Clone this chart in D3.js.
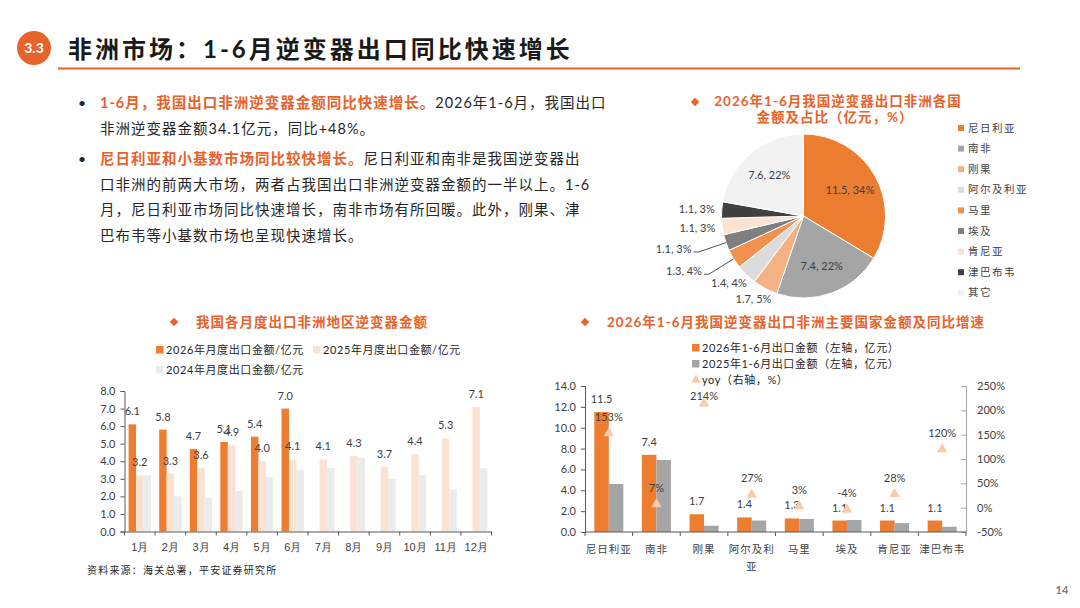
<!DOCTYPE html>
<html>
<head>
<meta charset="utf-8">
<script src="https://cdn.jsdelivr.net/npm/d3@7"></script>
<style>
  body { margin: 0; background: #fff; }
  svg { display: block; font-family: Lato, "Noto Sans CJK SC", sans-serif; }
</style>
</head>
<body>
<svg id="page" width="1080" height="608"></svg>
<script>
// ---- data ----
const months = ["1月", "2月", "3月", "4月", "5月", "6月", "7月", "8月", "9月", "10月", "11月", "12月"];
const monthly2026 = [6.1, 5.8, 4.7, 5.1, 5.4, 7.0];
const monthly2025 = [3.2, 3.3, 3.6, 4.9, 4.0, 4.1, 4.1, 4.3, 3.7, 4.4, 5.3, 7.1];
const monthly2024 = [3.2, 2.0, 1.9, 2.3, 3.1, 3.5, 3.6, 4.2, 3.0, 3.2, 2.4, 3.6];

const countries = ["尼日利亚", "南非", "刚果", "阿尔及利亚", "马里", "埃及", "肯尼亚", "津巴布韦"];
const h1Export2026 = [11.5, 7.4, 1.7, 1.4, 1.3, 1.1, 1.1, 1.1];
const h1Export2025 = [4.6, 6.9, 0.6, 1.1, 1.25, 1.15, 0.85, 0.5];
const yoyPct = [153, 7, 214, 27, 3, -4, 28, 120];

const pieNames = ["尼日利亚", "南非", "刚果", "阿尔及利亚", "马里", "埃及", "肯尼亚", "津巴布韦", "其它"];
const pieValues = [11.5, 7.4, 1.7, 1.4, 1.3, 1.1, 1.1, 1.1, 7.6];
const pieShares = [34, 22, 5, 4, 4, 3, 3, 3, 22];

const leftTicks = [0, 1, 2, 3, 4, 5, 6, 7, 8];
const rightTicksL = [0, 2, 4, 6, 8, 10, 12, 14];
const rightTicksR = [-50, 0, 50, 100, 150, 200, 250];

// ---- colours ----
const ORANGE = "#ED7D31";
const ACCENT = "#E8622C";
const TEXT = "#262626";
const LABEL = "#404040";
const pieColors = ["#ED7D31", "#A5A5A5", "#F4B183", "#DCDCDC", "#F0914D", "#7F7F7F", "#FBE3D3", "#404040", "#F2F2F2"];

const svg = d3.select("#page");

// ---- header ----
svg.append("circle").attr("cx", 34).attr("cy", 48).attr("r", 17).attr("fill", ACCENT);
svg.append("text").attr("x", 34).attr("y", 53).attr("text-anchor", "middle")
  .attr("fill", "#fff").attr("font-size", 14).attr("font-weight", "bold").text("3.3");
svg.append("text").attr("x", 68).attr("y", 58).attr("font-size", 24).attr("font-weight", "bold")
  .attr("letter-spacing", 3).attr("fill", "#1a1a1a").text("非洲市场：1-6月逆变器出口同比快速增长");
svg.append("line").attr("x1", 58).attr("x2", 1020).attr("y1", 68.5).attr("y2", 68.5)
  .attr("stroke", ACCENT).attr("stroke-width", 2);

// ---- bullet text ----
const paras = [
  { y: 108, lines: [
    [["1-6月，我国出口非洲逆变器金额同比快速增长。", true], ["2026年1-6月，我国出口", false]],
    [["非洲逆变器金额34.1亿元，同比+48%。", false]]
  ]},
  { y: 164, lines: [
    [["尼日利亚和小基数市场同比较快增长。", true], ["尼日利亚和南非是我国逆变器出", false]],
    [["口非洲的前两大市场，两者占我国出口非洲逆变器金额的一半以上。1-6", false]],
    [["月，尼日利亚市场同比快速增长，南非市场有所回暖。此外，刚果、津", false]],
    [["巴布韦等小基数市场也呈现快速增长。", false]]
  ]}
];
paras.forEach(p => {
  svg.append("text").attr("x", 78).attr("y", p.y).attr("font-size", 14).attr("fill", TEXT).text("•");
  p.lines.forEach((line, i) => {
    const t = svg.append("text").attr("x", 100).attr("y", p.y + i * 25.7)
      .attr("font-size", 14.5).attr("letter-spacing", 1);
    line.forEach(([s, hi]) => {
      t.append("tspan").text(s).attr("fill", hi ? ACCENT : TEXT).attr("font-weight", hi ? "bold" : "normal");
    });
  });
});

function diamond(x, y) {
  svg.append("rect").attr("x", -3).attr("y", -3).attr("width", 6).attr("height", 6)
    .attr("fill", ACCENT).attr("transform", `translate(${x},${y}) rotate(45)`);
}
function chartTitle(x, y, s, anchor) {
  svg.append("text").attr("x", x).attr("y", y).attr("font-size", 13.5).attr("font-weight", "bold")
    .attr("letter-spacing", 1).attr("fill", ACCENT).attr("text-anchor", anchor || "start").text(s);
}

// ---- pie chart ----
const pieR = 82, pieCx = 803.5, pieCy = 216;
diamond(695, 102);
chartTitle(838, 106, "2026年1-6月我国逆变器出口非洲各国", "middle");
chartTitle(835, 122, "金额及占比（亿元，%）", "middle");

const pieG = svg.append("g").attr("transform", `translate(${pieCx},${pieCy})`);
const arcs = d3.pie().sort(null).value(d => d)(pieValues);
const arc = d3.arc().innerRadius(0).outerRadius(pieR);
pieG.selectAll("path.slice").data(arcs).enter().append("path")
  .attr("class", "slice").attr("d", arc)
  .attr("fill", (d, i) => pieColors[i]).attr("stroke", "#fff").attr("stroke-width", 1);

const leaderSlices = ["马里", "埃及"];
const innerArc = d3.arc().innerRadius(pieR * 0.65).outerRadius(pieR * 0.65);
arcs.forEach((d, i) => {
  const label = `${pieValues[i]}, ${pieShares[i]}%`;
  const mid = (d.startAngle + d.endAngle) / 2;
  const dx = Math.sin(mid), dy = -Math.cos(mid);
  let x, y, anchor = "middle";
  if (pieValues[i] >= 5) {
    [x, y] = innerArc.centroid(d);
  } else if (leaderSlices.includes(pieNames[i])) {
    const ex = dx * (pieR + 29), ey = dy * (pieR + 29);
    pieG.append("polyline")
      .attr("points", `${dx * pieR},${dy * pieR} ${ex},${ey} ${ex - 5},${ey}`)
      .attr("fill", "none").attr("stroke", "#262626").attr("stroke-width", 0.8);
    x = ex - 7; y = ey - 3; anchor = "end";
  } else {
    x = dx * (pieR + 6) + dx * 19;
    y = dy * (pieR + 6) + dy * 6;
  }
  pieG.append("text").attr("x", x).attr("y", y).attr("dy", "0.35em")
    .attr("text-anchor", anchor).attr("font-size", 11).attr("fill", LABEL).text(label);
});

const pieLegend = svg.append("g").attr("transform", "translate(958,128)");
pieNames.forEach((n, i) => {
  const g = pieLegend.append("g").attr("transform", `translate(0,${i * 20.6})`);
  g.append("rect").attr("x", 0).attr("y", -3).attr("width", 6).attr("height", 6).attr("fill", pieColors[i]);
  g.append("text").attr("x", 10).attr("y", 0).attr("dy", "0.35em").attr("font-size", 10.5)
    .attr("letter-spacing", 1.5).attr("fill", LABEL).text(n);
});

// ---- left chart: monthly exports ----
diamond(174, 322);
chartTitle(196, 327, "我国各月度出口非洲地区逆变器金额");

function legendItem(x, y, color, s) {
  svg.append("rect").attr("x", x).attr("y", y - 4).attr("width", 7.5).attr("height", 7.5).attr("fill", color);
  svg.append("text").attr("x", x + 10).attr("y", y).attr("dy", "0.35em").attr("font-size", 11)
    .attr("letter-spacing", 0.6).attr("fill", TEXT).text(s);
}
const C2025 = "#FBE3D3", C2024 = "#EBEBEB";
legendItem(156, 350, ORANGE, "2026年月度出口金额/亿元");
legendItem(313, 350, C2025, "2025年月度出口金额/亿元");
legendItem(156, 370, C2024, "2024年月度出口金额/亿元");

const lx = d3.scaleBand().domain(months).range([124.5, 491.5]);
const lsub = d3.scaleBand().domain(["2026", "2025", "2024"]).range([0, lx.bandwidth()]).paddingOuter(0.55);
const ly = d3.scaleLinear().domain([0, 8]).range([531.5, 391]);

const left = svg.append("g");
left.append("g").attr("transform", "translate(124.5,0)")
  .call(d3.axisLeft(ly).tickValues(leftTicks).tickFormat(d3.format(".1f")).tickSize(4).tickPadding(5))
  .call(g => g.select(".domain").attr("stroke", "#595959"))
  .call(g => g.selectAll(".tick line").attr("stroke", "#595959"))
  .call(g => g.selectAll(".tick text").attr("font-size", 11).attr("fill", LABEL).attr("font-family", "Lato"));

const seriesL = [
  { key: "2026", vals: monthly2026, color: ORANGE, label: true },
  { key: "2025", vals: monthly2025, color: C2025, label: true },
  { key: "2024", vals: monthly2024, color: C2024, label: false }
];
seriesL.forEach(s => {
  left.selectAll(null).data(s.vals).enter().append("rect")
    .attr("x", (v, i) => lx(months[i]) + lsub(s.key))
    .attr("y", v => ly(v)).attr("width", lsub.bandwidth()).attr("height", v => ly(0) - ly(v))
    .attr("fill", s.color);
});
seriesL.filter(s => s.label).forEach(s => {
  left.selectAll(null).data(s.vals).enter().append("text")
    .attr("x", (v, i) => lx(months[i]) + lsub(s.key) + lsub.bandwidth() / 2)
    .attr("y", v => ly(v) - 9).attr("text-anchor", "middle")
    .attr("font-size", 11).attr("fill", LABEL).text(v => v.toFixed(1));
});
left.append("g").attr("transform", `translate(0,${ly(0)})`)
  .call(d3.axisBottom(lx).tickSize(0).tickPadding(12))
  .call(g => g.select(".domain").attr("stroke", "#595959"))
  .call(g => g.selectAll(".tick text").attr("font-size", 11).attr("fill", LABEL));
left.selectAll(null).data(d3.range(months.length + 1)).enter().append("line")
  .attr("x1", i => lx.range()[0] + i * lx.step()).attr("x2", i => lx.range()[0] + i * lx.step())
  .attr("y1", ly(0)).attr("y2", ly(0) + 4).attr("stroke", "#595959");

svg.append("text").attr("x", 87).attr("y", 574).attr("font-size", 10).attr("letter-spacing", 1.2)
  .attr("fill", TEXT).text("资料来源：海关总署，平安证券研究所");

// ---- right chart: main countries ----
diamond(585, 322);
chartTitle(607, 327, "2026年1-6月我国逆变器出口非洲主要国家金额及同比增速");

const GRAY = "#A5A5A5", TRI = "#F8CBAD";
legendItem(692, 348, ORANGE, "2026年1-6月出口金额（左轴，亿元）");
legendItem(692, 364, GRAY, "2025年1-6月出口金额（左轴，亿元）");
svg.append("path").attr("d", d3.symbol(d3.symbolTriangle, 40)()).attr("transform", "translate(696,380)").attr("fill", TRI);
svg.append("text").attr("x", 702).attr("y", 380).attr("dy", "0.35em").attr("font-size", 11)
  .attr("letter-spacing", 0.6).attr("fill", TEXT).text("yoy（右轴，%）");

const rx = d3.scaleBand().domain(countries).range([585, 966]);
const rsub = d3.scaleBand().domain(["2026", "2025"]).range([0, rx.bandwidth()]).paddingOuter(0.64);
const ry = d3.scaleLinear().domain([0, 14]).range([532, 386]);
const ry2 = d3.scaleLinear().domain([-50, 250]).range([532, 386]);

const right = svg.append("g");
right.append("g").attr("transform", "translate(585,0)")
  .call(d3.axisLeft(ry).tickValues(rightTicksL).tickFormat(d3.format(".1f")).tickSize(4).tickPadding(5))
  .call(g => g.select(".domain").attr("stroke", "#595959"))
  .call(g => g.selectAll(".tick line").attr("stroke", "#595959"))
  .call(g => g.selectAll(".tick text").attr("font-size", 11).attr("fill", LABEL).attr("font-family", "Lato"));
right.append("g").attr("transform", "translate(966,0)")
  .call(d3.axisRight(ry2).tickValues(rightTicksR).tickFormat(d => d + "%").tickSizeInner(-5).tickSizeOuter(0).tickPadding(11))
  .call(g => g.select(".domain").attr("stroke", "#A6A6A6"))
  .call(g => g.selectAll(".tick line").attr("stroke", "#A6A6A6"))
  .call(g => g.selectAll(".tick text").attr("font-size", 11).attr("fill", LABEL).attr("font-family", "Lato"));

[{ key: "2026", vals: h1Export2026, color: ORANGE }, { key: "2025", vals: h1Export2025, color: GRAY }].forEach(s => {
  right.selectAll(null).data(s.vals).enter().append("rect")
    .attr("x", (v, i) => rx(countries[i]) + rsub(s.key))
    .attr("y", v => ry(v)).attr("width", rsub.bandwidth()).attr("height", v => ry(0) - ry(v))
    .attr("fill", s.color);
});
right.selectAll(null).data(h1Export2026).enter().append("text")
  .attr("x", (v, i) => rx(countries[i]) + rsub("2026") + rsub.bandwidth() / 2)
  .attr("y", v => ry(v) - 9).attr("text-anchor", "middle")
  .attr("font-size", 11).attr("fill", LABEL).text(v => v.toFixed(1));
right.selectAll(null).data(yoyPct).enter().append("path")
  .attr("d", d3.symbol(d3.symbolTriangle, 48)())
  .attr("transform", (v, i) => `translate(${rx(countries[i]) + rx.bandwidth() / 2},${ry2(v)})`)
  .attr("fill", TRI);
// labels sit above the marker, kept inside the plot area like the original
right.selectAll(null).data(yoyPct).enter().append("text")
  .attr("x", (v, i) => rx(countries[i]) + rx.bandwidth() / 2)
  .attr("y", v => Math.max(ry2(v) - 16, ry2.range()[1] + 10)).attr("dy", "0.35em").attr("text-anchor", "middle")
  .attr("font-size", 11).attr("fill", LABEL).text(v => v + "%");

right.append("line").attr("x1", 585).attr("x2", 966).attr("y1", ry(0)).attr("y2", ry(0)).attr("stroke", "#595959");
right.selectAll(null).data(d3.range(countries.length + 1)).enter().append("line")
  .attr("x1", i => 585 + i * rx.step()).attr("x2", i => 585 + i * rx.step())
  .attr("y1", ry(0)).attr("y2", ry(0) + 4).attr("stroke", "#595959");
countries.forEach(c => {
  const t = right.append("text").attr("x", rx(c) + rx.bandwidth() / 2).attr("y", 553)
    .attr("text-anchor", "middle").attr("font-size", 10.5).attr("letter-spacing", 1).attr("fill", LABEL);
  t.append("tspan").text(c.slice(0, 4));
  if (c.length > 4) t.append("tspan").attr("x", rx(c) + rx.bandwidth() / 2).attr("dy", 17).text(c.slice(4));
});

// page number
svg.append("text").attr("x", 1062).attr("y", 594).attr("text-anchor", "middle")
  .attr("font-size", 11).attr("font-weight", "bold").attr("fill", "#7F7F7F").text("14");
</script>
</body>
</html>
